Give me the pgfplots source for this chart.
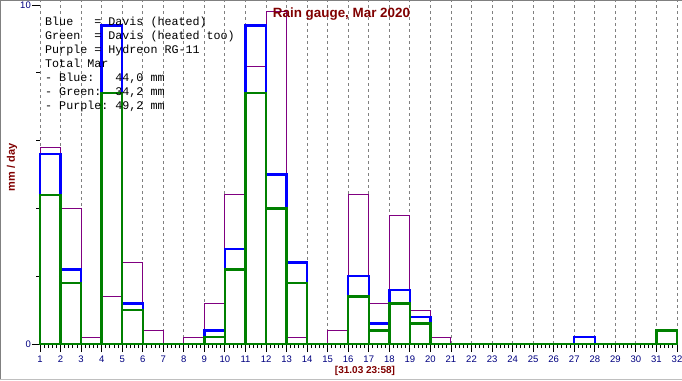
\documentclass[border=0pt]{standalone}
\usepackage{fontspec}
\setmainfont{Liberation Sans}
\setmonofont{Liberation Mono}
\usepackage{pgfplots}
\usepackage{pgfplotstable}
\pgfplotsset{compat=1.18}
\definecolor{cblue}{RGB}{0,0,255}
\definecolor{cgreen}{RGB}{0,128,0}
\definecolor{cpurple}{RGB}{128,0,128}
\definecolor{cnavy}{RGB}{0,0,128}
\definecolor{cmaroon}{RGB}{128,0,0}

\pgfplotstableread{
day blue green purple
1 5.6 4.4 5.8
2 2.2 1.8 4.0
3 0 0 0.2
4 9.4 7.4 1.4
5 1.2 1.0 2.4
6 0 0 0.4
7 0 0 0
8 0 0 0.2
9 0.4 0.2 1.2
10 2.8 2.2 4.4
11 9.4 7.4 8.2
12 5.0 4.0 9.8
13 2.4 1.8 0.2
14 0 0 0
15 0 0 0.4
16 2.0 1.4 4.4
17 0.6 0.4 1.2
18 1.6 1.2 3.8
19 0.8 0.6 1.0
20 0 0 0.2
21 0 0 0
22 0 0 0
23 0 0 0
24 0 0 0
25 0 0 0
26 0 0 0
27 0.2 0 0
28 0 0 0
29 0 0 0
30 0 0 0
31 0 0.4 0
32 0 0 0
}\rain

\begin{document}
\begin{tikzpicture}
\begin{axis}[
  at={(40pt,36pt)}, anchor=south west,
  scale only axis, width=637pt, height=343pt,
  xmin=1, xmax=32, ymin=0, ymax=10.12,
  axis line style={draw=none},
  tick pos=left, tick align=outside,
  xtick={1,...,32}, minor x tick num=4,
  ytick={0,10}, minor ytick={2,4,6,8},
  major tick length=8pt, minor tick length=4pt,
  tick style={black, line width=0.9pt},
  xmajorgrids,
  major x grid style={draw=gray, line width=0.9pt, dash pattern=on 3pt off 3pt},
  ticklabel style={font=\fontsize{9.5}{11}\selectfont, text=cnavy},
  xticklabel style={inner sep=1pt, yshift=-3pt},
  yticklabel style={inner sep=1pt},
  /pgf/number format/assume math mode=true,
  clip=false,
]
\addplot[ybar interval, draw=cpurple, line width=1pt, fill=none] table[x=day, y=purple]{\rain};
\addplot[ybar interval, draw=cblue, line width=2.4pt, fill=none] table[x=day, y=blue]{\rain};
\addplot[ybar interval, draw=cgreen, line width=2.4pt, fill=none] table[x=day, y=green]{\rain};
\end{axis}

\node[anchor=base, inner sep=0, font=\fontsize{13.4}{15}\selectfont\bfseries, text=cmaroon] at (341.5pt,362pt) {Rain gauge, Mar 2020};
\node[anchor=base, inner sep=0, font=\fontsize{10}{12}\selectfont\bfseries, text=cmaroon] at (365pt,7pt) {[31.03 23:58]};
\node[rotate=90, inner sep=0, font=\fontsize{11}{13}\selectfont\bfseries, text=cmaroon] at (12pt,212.5pt) {mm / day};

\begin{scope}[every node/.style={anchor=base west, inner sep=0, font=\fontsize{11.7}{14}\selectfont\ttfamily}]
\node at (45pt,354pt) {Blue\ \ \ =\ Davis\ (heated)};
\node at (45pt,340.1pt) {Green\ \ =\ Davis\ (heated\ too)};
\node at (45pt,326.2pt) {Purple\ =\ Hydreon\ RG-11};
\node at (45pt,312.3pt) {Total\ Mar};
\node at (45pt,298.4pt) {-\ Blue:\ \ \ 44,0\ mm};
\node at (45pt,284.5pt) {-\ Green:\ \ 34,2\ mm};
\node at (45pt,270.6pt) {-\ Purple:\ 49,2\ mm};
\end{scope}

\draw[gray, line width=1pt] (0.5pt,0pt) -- (0.5pt,379.5pt) -- (682pt,379.5pt);
\draw[gray!50, line width=1pt] (0pt,0.5pt) -- (682pt,0.5pt);

\pgfresetboundingbox
\useasboundingbox (0,0) rectangle (682pt,380pt);
\end{tikzpicture}
\end{document}
